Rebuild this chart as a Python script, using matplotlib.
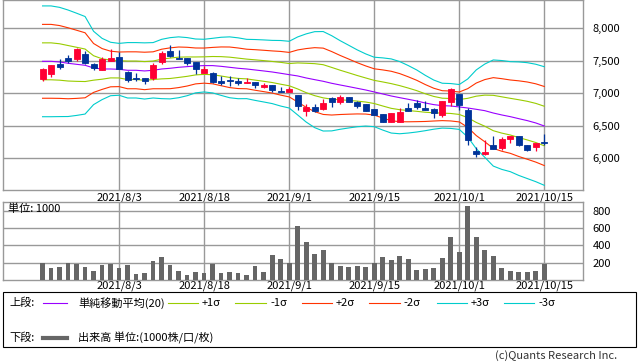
import numpy as np
import matplotlib
matplotlib.use("Agg")
import matplotlib.pyplot as plt
from matplotlib.lines import Line2D
from matplotlib.patches import Rectangle
from matplotlib.ticker import FuncFormatter, FixedLocator

plt.rcParams['font.family'] = ['Noto Sans CJK JP', 'DejaVu Sans']

# ---------------- data ----------------
date_ticks = [9, 19, 29, 39, 49, 59]
date_labels = ["2021/8/3", "2021/8/18", "2021/9/1", "2021/9/15", "2021/10/1", "2021/10/15"]

opens = [7221, 7303, 7451, 7544, 7523, 7605, 7451, 7364, 7492, 7559,
         7328, 7236, 7236, 7236, 7487, 7651, 7544, 7544, 7482, 7313,
         7313, 7190, 7205, 7190, 7164, 7174, 7097, 7128, 7041, 7026,
         6974, 6728, 6790, 6759, 6928, 6867, 6944, 6867, 6836, 6759,
         6682, 6559, 6559, 6774, 6851, 6774, 6759, 6667, 6867, 6990,
         6744, 6113, 6067, 6205, 6159, 6297, 6344, 6205, 6174, 6251]
highs = [7395, 7440, 7523, 7590, 7692, 7651, 7467, 7564, 7682, 7636,
         7349, 7313, 7236, 7467, 7651, 7744, 7667, 7544, 7482, 7421,
         7328, 7267, 7267, 7236, 7236, 7174, 7159, 7128, 7097, 7097,
         6974, 6836, 6836, 6913, 6944, 6974, 6944, 6882, 6836, 6759,
         6682, 6697, 6774, 6851, 6897, 6882, 6774, 6882, 7082, 6990,
         6774, 6174, 6282, 6344, 6328, 6344, 6344, 6205, 6236, 6374]
lows = [7195, 7256, 7380, 7462, 7497, 7451, 7364, 7364, 7492, 7374,
        7180, 7190, 7149, 7205, 7456, 7554, 7528, 7431, 7297, 7313,
        7159, 7128, 7113, 7128, 7159, 7082, 7082, 7021, 7026, 7026,
        6744, 6651, 6713, 6744, 6790, 6836, 6867, 6774, 6728, 6667,
        6559, 6559, 6559, 6728, 6759, 6744, 6621, 6636, 6805, 6744,
        6205, 6021, 6051, 6144, 6128, 6236, 6190, 6113, 6113, 6205]
closes = [7374, 7436, 7410, 7492, 7682, 7467, 7390, 7533, 7544, 7374,
          7200, 7215, 7185, 7436, 7620, 7574, 7528, 7467, 7374, 7374,
          7174, 7159, 7195, 7159, 7180, 7128, 7128, 7051, 7026, 7067,
          6805, 6790, 6728, 6851, 6867, 6944, 6867, 6805, 6728, 6667,
          6559, 6697, 6713, 6728, 6790, 6744, 6697, 6882, 7067, 6821,
          6282, 6067, 6097, 6144, 6297, 6344, 6205, 6128, 6236, 6241]

# 20-day simple moving average and standard deviation
sma20 = [7492, 7492, 7482, 7462, 7446, 7431, 7390, 7374, 7374, 7369,
         7354, 7354, 7344, 7354, 7374, 7385, 7400, 7410, 7421, 7426,
         7426, 7415, 7400, 7385, 7374, 7359, 7344, 7328, 7308, 7287,
         7267, 7236, 7210, 7185, 7154, 7128, 7103, 7077, 7051, 7021,
         6990, 6959, 6933, 6908, 6882, 6851, 6826, 6810, 6805, 6790,
         6774, 6754, 6733, 6697, 6667, 6641, 6610, 6580, 6544, 6497]
sigma = [284, 284, 280, 273, 262, 250, 188, 157, 137, 133,
         142, 142, 144, 142, 152, 157, 156, 149, 138, 135,
         140, 149, 156, 156, 152, 156, 159, 162, 168, 171,
         200, 226, 246, 255, 244, 227, 212, 197, 185, 178,
         185, 190, 185, 173, 159, 142, 126, 115, 115, 115,
         149, 202, 239, 272, 279, 282, 291, 297, 301, 304]

volume = [200, 141, 153, 200, 188, 153, 110, 176, 188, 141,
          176, 71, 82, 223, 270, 176, 106, 59, 94, 82,
          188, 82, 94, 82, 59, 165, 94, 294, 247, 200,
          623, 435, 306, 353, 200, 165, 153, 165, 153, 200,
          270, 235, 282, 247, 118, 129, 141, 259, 494, 329,
          859, 494, 353, 282, 141, 106, 94, 94, 106, 188]

price_ticks = [6000, 6500, 7000, 7500, 8000]
vol_ticks = [200, 400, 600, 800]

# ---------------- style ----------------
W, H = 638, 362
RED = '#FF0033'
BLUE = '#003399'
PURPLE = '#9900FF'
GREEN = '#99CC00'
ORANGE = '#FF3300'
CYAN = '#00CCCC'
GRID = '#999999'
VOLC = '#666666'
FS = 8

def fx(px):
    return px / W

def fy(py):
    return 1 - py / H

fig = plt.figure(figsize=(W / 100, H / 100), dpi=100)
ax1 = fig.add_axes([fx(3), fy(190), fx(580), 190 / H])
ax2 = fig.add_axes([fx(3), fy(280), fx(580), (280 - 201.5) / H])

x = np.arange(len(closes))
o = np.array(opens, float)
h = np.array(highs, float)
l = np.array(lows, float)
c = np.array(closes, float)
m = np.array(sma20, float)
s = np.array(sigma, float)

# bands
for k, col in [(3, CYAN), (2, ORANGE), (1, GREEN)]:
    ax1.plot(x, m + k * s, color=col, lw=0.8, zorder=2)
    ax1.plot(x, m - k * s, color=col, lw=0.8, zorder=2)
ax1.plot(x, m, color=PURPLE, lw=0.8, zorder=2)

# candles
up = c >= o
cols = np.where(up, RED, BLUE)
ax1.vlines(x, l, h, colors=cols, lw=0.9, zorder=3)
ax1.bar(x, c - o, bottom=o, width=0.7, color=cols, edgecolor=cols, lw=0.6, zorder=4)

xlim = (-4.65, 63.55)
ax1.set_xlim(*xlim)
ax1.set_ylim(5513, 8435)

# volume
ax2.bar(x, volume, width=0.55, color=VOLC, zorder=3)
ax2.set_xlim(*xlim)
ax2.set_ylim(0, 910)

for ax, yt, fmt, pad_x in [(ax1, price_ticks, lambda v, p: f"{int(v):,}", 1.5),
                           (ax2, vol_ticks, lambda v, p: f"{int(v)}", 0.3)]:
    ax.xaxis.set_major_locator(FixedLocator(date_ticks))
    ax.set_xticklabels(date_labels)
    ax.yaxis.set_major_locator(FixedLocator(yt))
    ax.yaxis.set_major_formatter(FuncFormatter(fmt))
    ax.yaxis.tick_right()
    ax.tick_params(axis='both', length=0, labelsize=FS, colors='#000000')
    ax.tick_params(axis='y', pad=7)
    ax.tick_params(axis='x', pad=pad_x)
    ax.grid(True, color=GRID, lw=1.0)
    ax.set_axisbelow(True)
    for sp in ax.spines.values():
        sp.set_color(GRID)
        sp.set_linewidth(1.0)

ax2.text(5 / 580, 1 - (209 - 201.5) / 78.5, "単位: 1000",
         transform=ax2.transAxes, fontsize=FS, va='center', ha='left', zorder=5)

# ---------------- legend ----------------
fig.patches.append(Rectangle((fx(3), fy(347)), fx(633), (347 - 292) / H,
                             transform=fig.transFigure, fill=False,
                             edgecolor='#000000', lw=0.8))

def leg_line(x0, x1, y, col, lw=0.8):
    fig.add_artist(Line2D([fx(x0), fx(x1)], [fy(y), fy(y)], color=col, lw=lw,
                          transform=fig.transFigure))

y1, y2 = 303, 338
fig.text(fx(9), fy(y1), "上段:", fontsize=FS, va='center')
leg_line(43, 67, y1, PURPLE)
fig.text(fx(78), fy(y1), "単純移動平均(20)", fontsize=FS, va='center')
items = [(168, 198, GREEN, "+1σ", 202), (235, 266, GREEN, "-1σ", 270),
         (302, 332, ORANGE, "+2σ", 336), (369, 400, ORANGE, "-2σ", 403),
         (437, 467, CYAN, "+3σ", 471), (504, 534, CYAN, "-3σ", 538)]
for a, b, col, lab, tx in items:
    leg_line(a, b, y1, col)
    fig.text(fx(tx), fy(y1), lab, fontsize=FS, va='center')

fig.text(fx(9), fy(y2), "下段:", fontsize=FS, va='center')
leg_line(43, 67, y2, VOLC, lw=3)
fig.text(fx(78), fy(y2), "出来高 単位:(1000株/口/枚)", fontsize=FS, va='center')

fig.text(fx(617), fy(356), "(c)Quants Research Inc.", fontsize=FS, va='center',
         ha='right', color='#333333')

fig.savefig("out.png", dpi=100)
